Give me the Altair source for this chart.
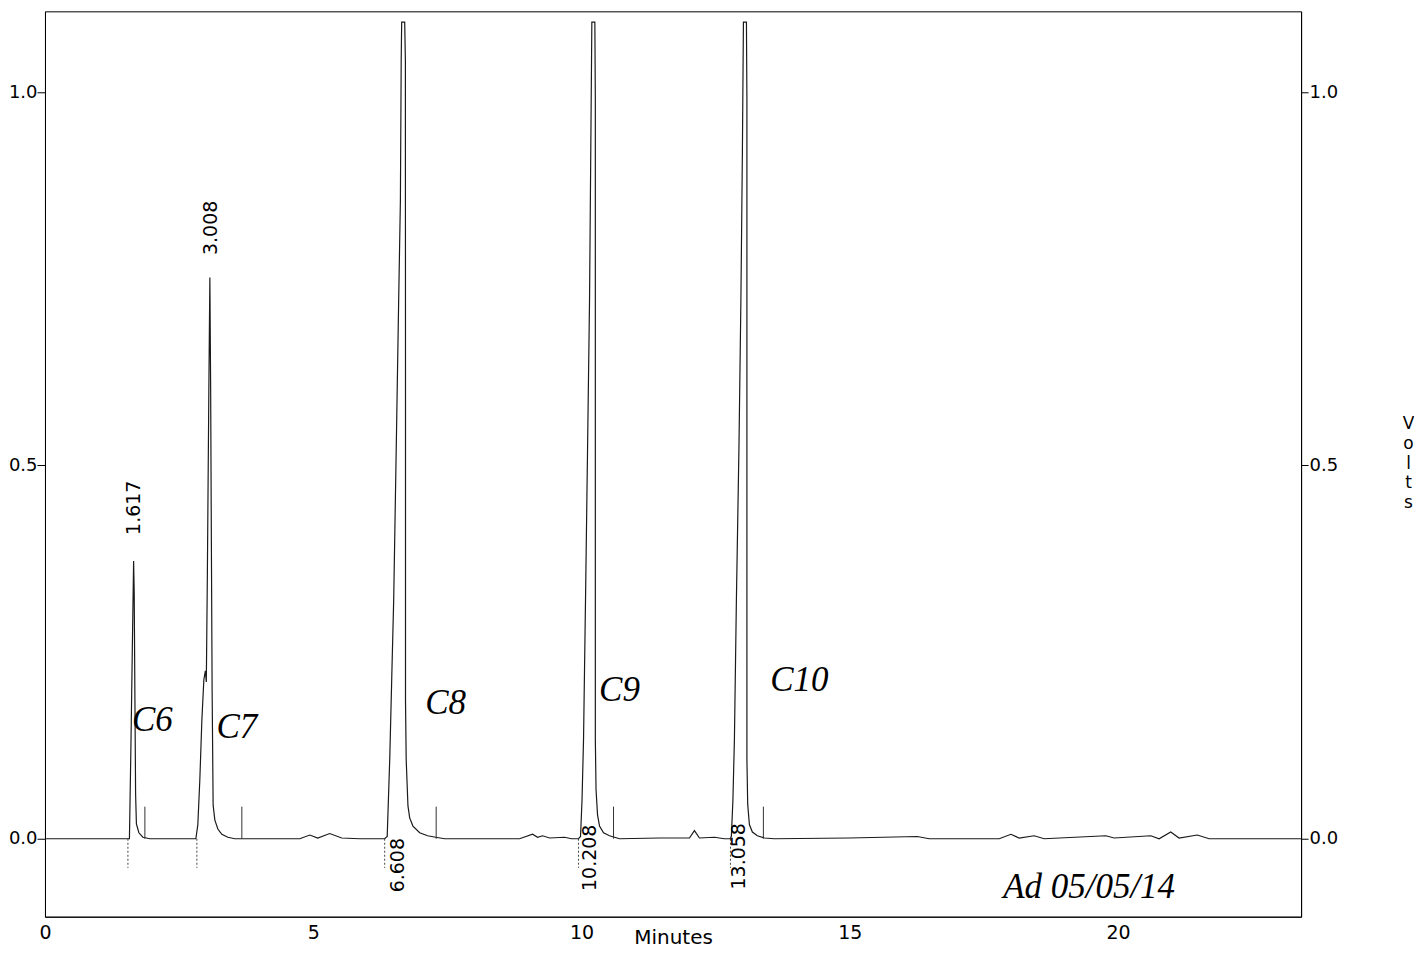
import altair as alt
import pandas as pd

# ---- chromatogram trace (minutes, volts) ----
pre_t = [0.0, 1.0]
pre_v = [0.0, 0.0]
c6_t = [1.546, 1.574, 1.601, 1.629, 1.652, 1.663, 1.676, 1.689, 1.704, 1.750, 1.825, 1.955]
c6_v = [0.0, 0.0, 0.12, 0.26, 0.372, 0.33, 0.19, 0.06, 0.02, 0.008, 0.002, 0.0]
c7_t = [2.5, 2.812, 2.849, 2.886, 2.924, 2.961, 2.989, 3.007, 3.026, 3.054, 3.073,
        3.088, 3.101, 3.115, 3.134, 3.166, 3.222, 3.296, 3.408, 3.538]
c7_v = [0.0, 0.0, 0.019, 0.079, 0.159, 0.213, 0.225, 0.21, 0.35, 0.6, 0.752,
        0.6, 0.4, 0.2, 0.045, 0.025, 0.013, 0.006, 0.002, 0.0]
b1_t = [4.749, 4.935, 5.084, 5.307, 5.531, 5.866]
b1_v = [0.0, 0.005, 0.001, 0.007, 0.001, 0.0]
c8_t = [6.331, 6.378, 6.425, 6.462, 6.499, 6.546, 6.592, 6.624, 6.639, 6.648, 6.704,
        6.717, 6.719, 6.719, 6.732, 6.765, 6.797, 6.858, 6.983, 7.132, 7.281, 7.449]
c8_v = [0.0, 0.003, 0.106, 0.213, 0.32, 0.521, 0.722, 0.855, 1.043, 1.094, 1.094,
        1.043, 0.588, 0.186, 0.106, 0.044, 0.028, 0.017, 0.008, 0.004, 0.002, 0.0]
b2_t = [8.845, 9.088, 9.181, 9.274, 9.404, 9.683, 9.814]
b2_v = [0.0, 0.006, 0.002, 0.004, 0.001, 0.002, 0.0]
c9_t = [9.944, 9.981, 10.009, 10.037, 10.074, 10.112, 10.149, 10.177, 10.192, 10.248,
        10.257, 10.257, 10.257, 10.270, 10.298, 10.335, 10.410, 10.521, 10.708]
c9_v = [0.0, 0.003, 0.052, 0.133, 0.32, 0.521, 0.722, 0.963, 1.094, 1.094,
        0.989, 0.454, 0.133, 0.066, 0.032, 0.017, 0.008, 0.004, 0.0]
b3_t = [11.453, 12.011, 12.104, 12.197, 12.477, 12.663]
b3_v = [0.001, 0.001, 0.011, 0.001, 0.002, 0.0]
c10_t = [12.775, 12.793, 12.821, 12.849, 12.886, 12.933, 12.970, 12.998, 13.017, 13.073,
         13.082, 13.082, 13.082, 13.097, 13.128, 13.184, 13.277, 13.408, 13.594]
c10_v = [0.0, 0.004, 0.052, 0.133, 0.32, 0.521, 0.722, 0.922, 1.094, 1.094,
         0.989, 0.454, 0.106, 0.046, 0.019, 0.009, 0.004, 0.001, 0.0]
tail_t = [14.991, 16.257, 16.480, 17.784, 18.002, 18.156, 18.436, 18.622, 19.771,
          19.926, 20.609, 20.764, 20.981, 21.136, 21.477, 21.695, 23.41]
tail_v = [0.001, 0.003, 0.0, 0.0, 0.006, 0.001, 0.004, 0.0, 0.004,
          0.001, 0.004, 0.0, 0.009, 0.001, 0.005, 0.0, 0.0]

# ---- integration markers ----
start_t = [1.546, 2.831, 6.331, 9.944, 12.775]
start_depth = [-0.039, -0.039, -0.039, -0.039, -0.039]
end_t = [1.862, 3.669, 7.291, 10.596, 13.389]
end_height = [0.043, 0.043, 0.043, 0.043, 0.043]

# ---- retention time labels ----
rt_up_text = ["1.617", "3.008"]
rt_up_t = [1.657, 3.091]
rt_up_v = [0.407, 0.782]
rt_dn_text = ["6.608", "10.208", "13.058"]
rt_dn_t = [6.574, 10.149, 12.942]
rt_dn_v = [0.001, 0.019, 0.021]

# ---- handwritten notes ----
note_text = ["C6", "C7", "C8", "C9", "C10", "Ad 05/05/14"]
note_t = [2.0, 3.575, 7.467, 10.708, 14.06, 19.46]
note_v = [0.159, 0.150, 0.182, 0.199, 0.212, -0.064]

X_DOM = [0, 23.41]
Y_DOM = [-0.1044, 1.1084]
FONT = "DejaVu Sans"

tt = pre_t + c6_t + c7_t + b1_t + c8_t + b2_t + c9_t + b3_t + c10_t + tail_t
vv = pre_v + c6_v + c7_v + b1_v + c8_v + b2_v + c9_v + b3_v + c10_v + tail_v
trace = pd.DataFrame({"t": tt, "v": vv, "i": list(range(len(tt)))})
starts = pd.DataFrame({"t": start_t, "v": [0.0] * len(start_t), "v2": start_depth})
ends = pd.DataFrame({"t": end_t, "v": [0.0] * len(end_t), "v2": end_height})
rt_up = pd.DataFrame({"t": rt_up_t, "v": rt_up_v, "label": rt_up_text})
rt_dn = pd.DataFrame({"t": rt_dn_t, "v": rt_dn_v, "label": rt_dn_text})
notes = pd.DataFrame({"t": note_t, "v": note_v, "label": note_text})

xs = alt.Scale(domain=X_DOM, nice=False, zero=False)
ys = alt.Scale(domain=Y_DOM, nice=False, zero=False)

x_axis = alt.Axis(values=[0, 5, 10, 15, 20], format="d", ticks=False,
                  labelPadding=7, grid=False, labelFlush=False, labelFont=FONT,
                  labelFontSize=19, labelColor="black", titleFont=FONT, titleFontSize=20,
                  titleFontWeight="normal", titleColor="black", titleY=27,
                  titleBaseline="alphabetic", domainColor="black")
x_enc = alt.X("t:Q", scale=xs, axis=x_axis, title="Minutes")

y_left = alt.Axis(orient="left", values=[0.0, 0.5, 1.0], format=".1f", tickSize=8,
                  labelPadding=0, grid=False, labelFont=FONT, labelFontSize=18,
                  labelColor="black", tickColor="black", domainColor="black",
                  labelFlush=False)
y_right = alt.Axis(orient="right", values=[0.0, 0.5, 1.0], format=".1f", tickSize=7,
                   labelPadding=1, grid=False, labelFont=FONT, labelFontSize=18,
                   labelColor="black", tickColor="black", domainColor="black",
                   labelFlush=False, titleAngle=0,
                   titleX=107, titleY=404, titleBaseline="top", titleAlign="center",
                   titleLineHeight=20, titleFont=FONT, titleFontSize=17,
                   titleFontWeight="normal", titleColor="black")

line = alt.Chart(trace).mark_line(color="#1a1a1a", strokeWidth=1.2, clip=True).encode(
    x=x_enc,
    y=alt.Y("v:Q", scale=ys, axis=y_left, title=""),
    order="i:Q",
)
start_rules = alt.Chart(starts).mark_rule(color="#444", strokeWidth=1, strokeDash=[2, 2]).encode(
    x=x_enc,
    y=alt.Y("v:Q", scale=ys, axis=None),
    y2="v2:Q",
)
end_rules = alt.Chart(ends).mark_rule(color="#333", strokeWidth=1).encode(
    x=x_enc,
    y=alt.Y("v:Q", scale=ys, axis=y_right, title=["V", "o", "l", "t", "s"]),
    y2="v2:Q",
)
up_labels = alt.Chart(rt_up).mark_text(angle=270, align="left", baseline="middle",
                                       font=FONT, fontSize=19, color="black").encode(
    x=x_enc,
    y=alt.Y("v:Q", scale=ys, axis=None),
    text="label:N",
)
dn_labels = alt.Chart(rt_dn).mark_text(angle=270, align="right", baseline="middle",
                                       font=FONT, fontSize=19, color="black").encode(
    x=x_enc,
    y=alt.Y("v:Q", scale=ys, axis=None),
    text="label:N",
)
note_marks = alt.Chart(notes).mark_text(align="center", baseline="middle",
                                        font="Liberation Serif", fontStyle="italic",
                                        fontSize=35, color="black").encode(
    x=x_enc,
    y=alt.Y("v:Q", scale=ys, axis=None),
    text="label:N",
)

chart = alt.layer(line, start_rules, end_rules, up_labels, dn_labels, note_marks).resolve_scale(
    y="independent"
).properties(
    width=1257, height=906,
    padding={"left": 37, "top": 3, "right": 113, "bottom": 33},
    autosize=alt.AutoSizeParams(type="none"),
    background="white",
).configure_view(stroke="black", strokeWidth=1)

chart.save("out.html", embed_options={"renderer": "svg", "actions": False})
